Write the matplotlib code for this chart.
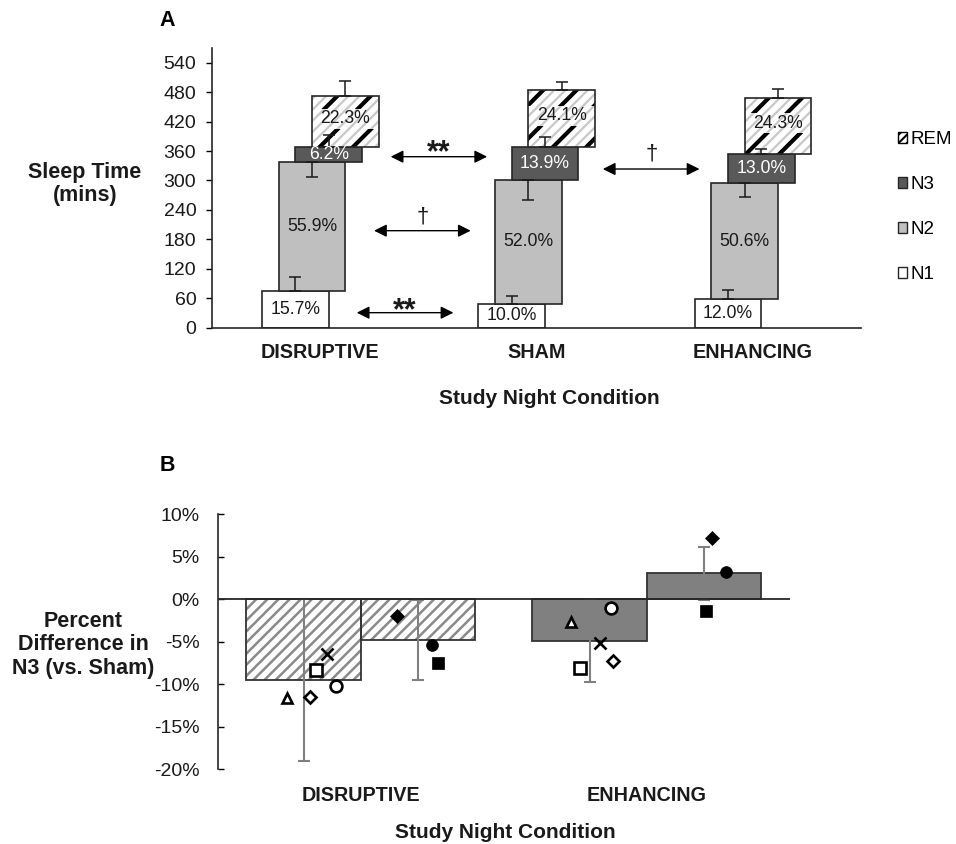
import matplotlib
matplotlib.use("Agg")
import matplotlib.pyplot as plt
from matplotlib.patches import Patch
import numpy as np

plt.rcParams['font.family'] = ['Liberation Sans', 'DejaVu Sans']

# ---------------- Panel A data ----------------
conditions_a = ['DISRUPTIVE', 'SHAM', 'ENHANCING']
stages = ['N1', 'N2', 'N3', 'REM']
n1_min = [74.8, 48.3, 57.8]
n2_min = [262.9, 252.7, 236.4]
n3_min = [29.9, 66.6, 59.8]
rem_min = [105.2, 116.8, 114.7]
n1_pct = ['15.7%', '10.0%', '12.0%']
n2_pct = ['55.9%', '52.0%', '50.6%']
n3_pct = ['6.2%', '13.9%', '13.0%']
rem_pct = ['22.3%', '24.1%', '24.3%']
n1_err_up = [27.9, 16.9, 19.0]
n2_err_down = [30.0, 40.8, 27.2]
n3_err_up = [25.0, 21.6, 10.0]
rem_err_up = [30.2, 15.6, 18.3]
yticks_a = [0, 60, 120, 180, 240, 300, 360, 420, 480, 540]
sig_labels = ['**', '\u2020', '**', '\u2020']

# ---------------- Panel B data ----------------
conditions_b = ['DISRUPTIVE', 'ENHANCING']
bar1_mean = [-9.53, -4.90]
bar1_err = [9.55, 4.80]
bar2_mean = [-4.79, 3.06]
bar2_err = [4.75, 3.09]
yticks_b = [-20, -15, -10, -5, 0, 5, 10]
# individual participants (open markers = first bar, filled = second bar)
open_markers = ['^', 'D', 's', 'x', 'o']
open_vals_disr = [-11.58, -11.50, -8.28, -6.47, -10.16]
open_vals_enh = [-2.67, -7.26, -8.12, -5.10, -1.06]
open_jit_disr = [-0.059, 0.023, 0.044, 0.081, 0.114]
open_jit_enh = [-0.064, 0.083, -0.033, 0.035, 0.074]
filled_markers = ['D', 'o', 's']
filled_vals_disr = [-2.00, -5.38, -7.45]
filled_vals_enh = [7.18, 3.21, -1.41]
filled_jit_disr = [-0.073, 0.049, 0.069]
filled_jit_enh = [0.026, 0.076, 0.007]

W, H = 956, 844
fig = plt.figure(figsize=(W / 100, H / 100), dpi=100)

def fx(px):
    return px / W

def fy(py):
    return 1 - py / H

# ================= Panel A =================
axA = fig.add_axes([fx(212.3), fy(327.7), fx(861) - fx(212.3), fy(48.0) - fy(327.7)])
xc = np.arange(len(conditions_a))
bw = 0.3085
step = 0.077
edge = '#262626'

segs = [n1_min, n2_min, n3_min, rem_min]
colors = ['white', '#bfbfbf', '#595959', 'white']
labels_pct = [n1_pct, n2_pct, n3_pct, rem_pct]
txtcol = ['#1a1a1a', '#1a1a1a', 'white', '#1a1a1a']
bottoms = np.zeros(3)
centers = {}
for i, (vals, col) in enumerate(zip(segs, colors)):
    vals = np.array(vals)
    xpos = xc + (i - 1.5) * step
    centers[i] = (xpos, bottoms.copy(), vals)
    ylab = bottoms + vals / 2
    if stages[i] == 'REM':
        ylab = bottoms + vals * 0.55
        plt.rcParams['hatch.linewidth'] = 1.6
        axA.bar(xpos, vals, bw, bottom=bottoms, color='white', edgecolor='#c8c8c8',
                hatch='///', linewidth=0, zorder=2)
        plt.rcParams['hatch.linewidth'] = 3.0
        axA.bar(xpos, vals, bw, bottom=bottoms, color='none', edgecolor='black',
                hatch='/', linewidth=0, zorder=2)
        # lighter band behind the label (label area shows only the grey stripes)
        plt.rcParams['hatch.linewidth'] = 1.6
        axA.bar(xpos, 40, bw, bottom=ylab - 20, color='white', edgecolor='#c8c8c8',
                hatch='///', linewidth=0, zorder=2.5)
        axA.bar(xpos, vals, bw, bottom=bottoms, fill=False, edgecolor=edge,
                linewidth=1.2, zorder=3)
    else:
        axA.bar(xpos, vals, bw, bottom=bottoms, color=col, edgecolor=edge,
                linewidth=1.2, zorder=2)
    for j in range(3):
        axA.text(xpos[j], ylab[j], labels_pct[i][j], ha='center',
                 va='center', fontsize=12.7, color=txtcol[i], zorder=5)
    bottoms = bottoms + vals

# error bars (one-sided)
err_specs = [(0, n1_err_up, 'up'), (1, n2_err_down, 'down'), (2, n3_err_up, 'up'), (3, rem_err_up, 'up')]
for i, errs, d in err_specs:
    xpos, bot, vals = centers[i]
    top = bot + vals
    errs = np.array(errs)
    if d == 'up':
        yerr = [np.zeros(3), errs]
    else:
        yerr = [errs, np.zeros(3)]
    axA.errorbar(xpos, top, yerr=yerr, fmt='none', ecolor='#1a1a1a', elinewidth=1.1,
                 capsize=4.5, capthick=1.1, zorder=4)

# significance arrows
arrows = [((0.325, 348.5), (0.771, 348.5), (0.549, 338.3), 22),
          ((0.248, 197.7), (0.695, 197.7), (0.472, 215.4), 16),
          ((0.168, 30.6), (0.615, 30.6), (0.392, 17.1), 22),
          ((1.306, 323.4), (1.753, 323.4), (1.530, 341.8), 16)]
for k, (p0, p1, pt, fs) in enumerate(arrows):
    axA.annotate('', xy=p1, xytext=p0,
                 arrowprops=dict(arrowstyle='<|-|>', color='black', lw=1.0,
                                 mutation_scale=19, shrinkA=0, shrinkB=0))
    axA.text(pt[0], pt[1], sig_labels[k], ha='center', va='baseline', fontsize=fs,
             color='#1a1a1a', fontweight='bold' if sig_labels[k] == '**' else 'normal')

axA.set_xlim(-0.5, 2.5)
axA.set_ylim(0, 570)
axA.set_yticks(yticks_a)
axA.set_xticks(xc)
axA.set_xticklabels(conditions_a, fontsize=14.2, fontweight='bold', color='#1a1a1a')
axA.tick_params(axis='x', length=0, pad=11)
axA.tick_params(axis='y', direction='out', length=4.5, width=1.0, pad=7,
                labelsize=14, labelcolor='#1a1a1a')
for s in ['top', 'right']:
    axA.spines[s].set_visible(False)
for s in ['left', 'bottom']:
    axA.spines[s].set_color('#262626')
    axA.spines[s].set_linewidth(1.2)

# legend
plt.rcParams['hatch.linewidth'] = 1.5
handles = [Patch(facecolor='white', edgecolor='black', hatch='////', label='REM'),
           Patch(facecolor='#595959', edgecolor='#262626', label='N3'),
           Patch(facecolor='#bfbfbf', edgecolor='#262626', label='N2'),
           Patch(facecolor='white', edgecolor='#262626', label='N1')]
fig.legend(handles=handles, loc='upper left', bbox_to_anchor=(fx(898), fy(131)),
           frameon=False, fontsize=13.5, handlelength=0.5, handleheight=0.5,
           handletextpad=0.15, labelspacing=1.5, borderpad=0, borderaxespad=0)

fig.text(fx(167), fy(21), 'A', fontsize=15.5, fontweight='bold', ha='center', va='center')
fig.text(fx(85), fy(184), 'Sleep Time\n(mins)', fontsize=15.5, fontweight='bold',
         ha='center', va='center', linespacing=1.15, color='#1a1a1a')
fig.text(fx(549), fy(399), 'Study Night Condition', fontsize=15, fontweight='bold',
         ha='center', va='center', color='#1a1a1a')

# ================= Panel B =================
axB = fig.add_axes([fx(217.7), fy(769.3), fx(790) - fx(217.7), fy(514.3) - fy(769.3)])
xb = np.arange(len(conditions_b)) + 0.5
bwb = 0.4
x1 = xb - 0.2
x2 = xb + 0.2

# hatched disruptive bars, solid enhancing bars
for k in range(2):
    for xs, m in [(x1[k], bar1_mean[k]), (x2[k], bar2_mean[k])]:
        if k == 0:
            axB.bar(xs, m, bwb, color='white', linewidth=0, zorder=1)
            plt.rcParams['hatch.linewidth'] = 1.8
            axB.bar(xs, m, bwb, color='none', edgecolor='#8a8a8a', hatch='///',
                    linewidth=0, zorder=1)
            axB.bar(xs, m, bwb, fill=False, edgecolor='#333333', linewidth=1.3, zorder=2)
        else:
            axB.bar(xs, m, bwb, color='#808080', edgecolor='#333333', linewidth=1.3,
                    zorder=1)

axB.errorbar(x1, bar1_mean, yerr=bar1_err, fmt='none', ecolor='#808080',
             elinewidth=1.5, capsize=4, capthick=1.5, zorder=3)
axB.errorbar(x2, bar2_mean, yerr=bar2_err, fmt='none', ecolor='#808080',
             elinewidth=1.5, capsize=4, capthick=1.5, zorder=3)

axB.axhline(0, color='#262626', linewidth=1.3, zorder=3.5)

open_sizes = {'^': 7.5, 'D': 6.5, 's': 8, 'x': 8, 'o': 8.5}
for k, (vals, jit) in enumerate([(open_vals_disr, open_jit_disr), (open_vals_enh, open_jit_enh)]):
    for mk, v, j in zip(open_markers, vals, jit):
        axB.plot(x1[k] + j, v, marker=mk, markersize=open_sizes[mk],
                 markerfacecolor='white' if mk != 'x' else 'black',
                 markeredgecolor='black', markeredgewidth=1.9, linestyle='none', zorder=4)
filled_sizes = {'D': 7.5, 'o': 8.5, 's': 8.5}
for k, (vals, jit) in enumerate([(filled_vals_disr, filled_jit_disr), (filled_vals_enh, filled_jit_enh)]):
    for mk, v, j in zip(filled_markers, vals, jit):
        axB.plot(x2[k] + j, v, marker=mk, markersize=filled_sizes[mk],
                 markerfacecolor='black', markeredgecolor='black', markeredgewidth=0.5,
                 linestyle='none', zorder=4)

axB.set_xlim(0, 2)
axB.set_ylim(-20, 10)
axB.set_yticks(yticks_b)
axB.set_yticklabels([f'{t}%' for t in yticks_b])
axB.set_xticks(xb)
axB.set_xticklabels(conditions_b, fontsize=14.2, fontweight='bold', color='#1a1a1a')
axB.tick_params(axis='x', length=0, pad=12)
axB.tick_params(axis='y', direction='in', length=4.5, width=1.0, pad=13,
                labelsize=14, labelcolor='#1a1a1a')
for s in ['top', 'right', 'bottom']:
    axB.spines[s].set_visible(False)
axB.spines['left'].set_color('#262626')
axB.spines['left'].set_linewidth(1.2)

fig.text(fx(167), fy(465), 'B', fontsize=15.5, fontweight='bold', ha='center', va='center')
fig.text(fx(83), fy(645), 'Percent\nDifference in\nN3 (vs. Sham)', fontsize=15.5,
         fontweight='bold', ha='center', va='center', linespacing=1.15, color='#1a1a1a')
fig.text(fx(505), fy(832), 'Study Night Condition', fontsize=15, fontweight='bold',
         ha='center', va='center', color='#1a1a1a')

fig.savefig('out.png', dpi=100)
